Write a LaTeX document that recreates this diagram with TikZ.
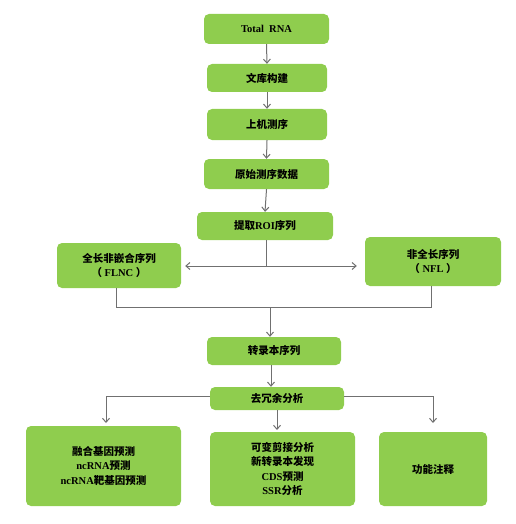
\documentclass[tikz,border=0pt]{standalone}
\usepackage{fontspec}
\setmainfont{Liberation Serif}
\newfontfamily\cjk{Noto Sans CJK SC}
\usetikzlibrary{arrows.meta}
\definecolor{boxgreen}{HTML}{8FCD4E}
\definecolor{linegray}{HTML}{707070}
\begin{document}
\begin{tikzpicture}[x=1pt,y=-1pt,
  box/.style={fill=boxgreen,draw=none,rounded corners=5pt,align=center,inner sep=0pt,
    font=\fontsize{10.5}{14.5}\selectfont\bfseries},
  conn/.style={draw=linegray,line width=1pt},
  arr/.style={conn,-{Straight Barb[length=4pt,width=7pt]}}]
\useasboundingbox (0,0) rectangle (515,524);
\node[box,minimum width=125pt,minimum height=30pt] (rna) at (266.5,29) {Total\ \ RNA};
\node[box,minimum width=120pt,minimum height=28pt] (lib) at (267,78) {\cjk 文库构建};
\node[box,minimum width=120pt,minimum height=31pt] (seq) at (267,124.5) {\cjk 上机测序};
\node[box,minimum width=125pt,minimum height=30pt] (raw) at (266.5,174) {\cjk 原始测序数据};
\node[box,minimum width=136pt,minimum height=28pt] (roi) at (265,226) {{\cjk 提取}ROI{\cjk 序列}};
\node[box,minimum width=124pt,minimum height=45pt] (flnc) at (119,265.5) {{\cjk 全长非嵌合序列}\\{\cjk （}\ FLNC\ {\cjk ）}};
\node[box,minimum width=136pt,minimum height=49pt] (nfl) at (433,261.5) {{\cjk 非全长序列}\\{\cjk （}\ NFL\ {\cjk ）}};
\node[box,minimum width=134pt,minimum height=28pt] (tr) at (274,351) {\cjk 转录本序列};
\node[box,minimum width=134pt,minimum height=23pt] (dr) at (277,398.5) {\cjk 去冗余分析};
\node[box,minimum width=155pt,minimum height=80pt] (b1) at (103.5,466) {{\cjk 融合基因预测}\\nc{}RNA{\cjk 预测}\\nc{}RNA{\cjk 靶基因预测}};
\node[box,minimum width=145pt,minimum height=74pt] (b2) at (282.5,469) {{\cjk 可变剪接分析}\\{\cjk 新转录本发现}\\CDS{\cjk 预测}\\SSR{\cjk 分析}};
\node[box,minimum width=108pt,minimum height=74pt] (b3) at (433,469) {\cjk 功能注释};
\draw[arr] (rna.south) -- (lib.north);
\draw[arr] (lib.south) -- (seq.north);
\draw[arr] (seq.south) -- (raw.north);
\draw[arr] (raw.south) -- (roi.north);
\coordinate (split) at (266,266);
\draw[conn] (roi.south -| split) -- (split);
\draw[arr] (split) -- ([xshift=4pt]flnc.east |- split);
\draw[arr] (split) -- ([xshift=-8pt]nfl.west |- split);
\coordinate (mj) at (270,307);
\draw[conn] (flnc.south -| 116,0) -- (116,307) -- (431,307) -- (nfl.south -| 431,0);
\draw[arr] (mj) -- (tr.north -| mj);
\draw[arr] (tr.south -| 271,0) -- (dr.north -| 271,0);
\draw[arr] (dr.west |- 0,396) -- (106,396) -- (106,423);
\draw[arr] (dr.east |- 0,396) -- (433,396) -- (433,423);
\draw[arr] (dr.south -| 277,0) -- (277,430);
\end{tikzpicture}
\end{document}
